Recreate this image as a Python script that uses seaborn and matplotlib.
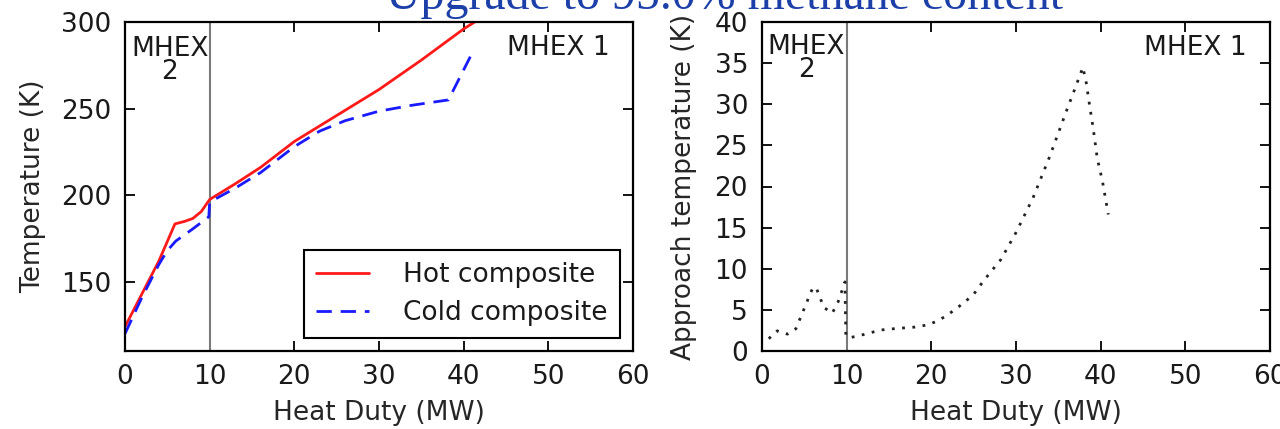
import matplotlib
matplotlib.use("Agg")
import matplotlib.pyplot as plt
import seaborn as sns
import pandas as pd

# ---- data ----
hot_duty = [0, 2, 4, 5.9, 7.0, 8.0, 9.0, 10.0, 13, 16, 20, 25, 30, 35, 40, 41.3]
hot_temp = [124, 143, 162, 183.4, 184.8, 186.5, 190.5, 197.5, 206.5, 216, 231, 246, 261, 278, 296, 300]

cold_duty = [0, 2, 4, 5.0, 6.0, 8.0, 9.9, 10.0, 13, 16, 20, 23, 26, 30, 34, 38.2, 41.2]
cold_temp = [120, 141, 160, 168, 173.5, 180.5, 187.5, 196, 204, 213, 228, 237, 243, 248.5, 252, 255, 284]

appr_duty = [0.8, 1.8, 3.0, 4.0, 5.0, 6.0, 6.4, 7.3, 8.3, 9.0, 9.8, 9.9, 10.3, 12.0, 14.0, 16.0,
             18.0, 19.7, 21.0, 22.0, 23.0, 24.0, 25.0, 26.0, 27.0, 28.2, 30.0, 32.0, 34.0, 36.0,
             37.0, 37.9, 38.3, 38.7, 39.1, 39.6, 40.2, 40.9]
appr_temp = [1.5, 2.45, 2.05, 2.7, 5.2, 7.7, 7.7, 5.3, 4.6, 6.0, 8.4, 1.9, 1.6, 2.0, 2.55, 2.75,
             2.9, 3.2, 3.8, 4.45, 5.2, 6.0, 6.9, 8.3, 9.6, 11.1, 14.4, 18.6, 23.7, 29.3,
             32.0, 34.5, 32.6, 29.8, 27.2, 23.4, 20.7, 16.6]

title_text = "Upgrade to 95.0% methane content"
boundary = 10

sns.set_style("ticks")
FS = 19
plt.rcParams.update({
    "font.family": ["DejaVu Sans"],
    "font.size": FS,
    "axes.linewidth": 1.6,
    "axes.edgecolor": "black",
    "xtick.direction": "in",
    "ytick.direction": "in",
    "xtick.top": True,
    "ytick.right": True,
    "xtick.major.size": 7.5,
    "ytick.major.size": 7.5,
    "xtick.major.width": 1.3,
    "ytick.major.width": 1.3,
    "xtick.major.pad": 9,
    "ytick.major.pad": 10,
    "xtick.labelsize": FS,
    "ytick.labelsize": FS,
    "axes.labelsize": FS,
    "text.color": "#1a1a1a",
    "xtick.color": "black",
    "ytick.color": "black",
    "xtick.labelcolor": "#1a1a1a",
    "ytick.labelcolor": "#1a1a1a",
})

W, H = 1280, 429
fig = plt.figure(figsize=(W / 100, H / 100), dpi=100)
ax1 = fig.add_axes([125 / W, 78 / H, 508 / W, 329 / H])
ax2 = fig.add_axes([762 / W, 78 / H, 508 / W, 329 / H])

hot_df = pd.DataFrame({"duty": hot_duty, "temp": hot_temp})
cold_df = pd.DataFrame({"duty": cold_duty, "temp": cold_temp})
appr_df = pd.DataFrame({"duty": appr_duty, "dt": appr_temp})

sns.lineplot(data=hot_df, x="duty", y="temp", ax=ax1, color="#ff1a1a", lw=2.0,
             sort=False, estimator=None, label="Hot composite")
sns.lineplot(data=cold_df, x="duty", y="temp", ax=ax1, color="#1a1aff", lw=2.0,
             sort=False, estimator=None, label="Cold composite", dashes=False)
ax1.lines[-1].set_dashes((5.5, 3.2))
ax1.axvline(boundary, color="#7a7a7a", lw=1.5, zorder=1)
ax1.set_xlim(0, 60)
ax1.set_ylim(110, 300)
ax1.set_xticks([0, 10, 20, 30, 40, 50, 60])
ax1.set_yticks([150, 200, 250, 300])
ax1.set_xlabel("Heat Duty (MW)")
ax1.set_ylabel("Temperature (K)")
ax1.xaxis.set_label_coords(0.5, -0.15)
ax1.yaxis.set_label_coords(-0.155, 0.5)
ax1.text(5.3, 292, "MHEX\n2", ha="center", va="top", linespacing=0.85, fontsize=FS)
ax1.text(51.2, 285, "MHEX 1", ha="center", va="center", fontsize=FS)
leg = ax1.legend(loc="lower right", frameon=True, fancybox=False, fontsize=FS,
                 handlelength=2.0, handletextpad=1.3, borderpad=0.45, labelspacing=0.45,
                 borderaxespad=0.5)
leg.get_frame().set_edgecolor("black")
leg.get_frame().set_linewidth(1.5)
leg.get_frame().set_alpha(1)

sns.lineplot(data=appr_df, x="duty", y="dt", ax=ax2, color="#222222", lw=2.0,
             sort=False, estimator=None)
ax2.lines[-1].set_linestyle((0, (1, 2.7)))
ax2.axvline(boundary, color="#7a7a7a", lw=1.5, zorder=1)
ax2.set_xlim(0, 60)
ax2.set_ylim(0, 40)
ax2.set_xticks([0, 10, 20, 30, 40, 50, 60])
ax2.set_yticks(range(0, 45, 5))
ax2.set_xlabel("Heat Duty (MW)")
ax2.set_ylabel("Approach temperature (K)")
ax2.xaxis.set_label_coords(0.5, -0.15)
ax2.yaxis.set_label_coords(-0.128, 0.5)
ax2.text(5.2, 38.5, "MHEX\n2", ha="center", va="top", linespacing=0.85, fontsize=FS)
ax2.text(51.2, 36.8, "MHEX 1", ha="center", va="center", fontsize=FS)

fig.text(725 / W, 1 - 9 / H, title_text, ha="center", va="baseline",
         family=["Liberation Serif"], fontsize=34.5, color="#1c3fa8")

fig.savefig("out.png", dpi=100)
